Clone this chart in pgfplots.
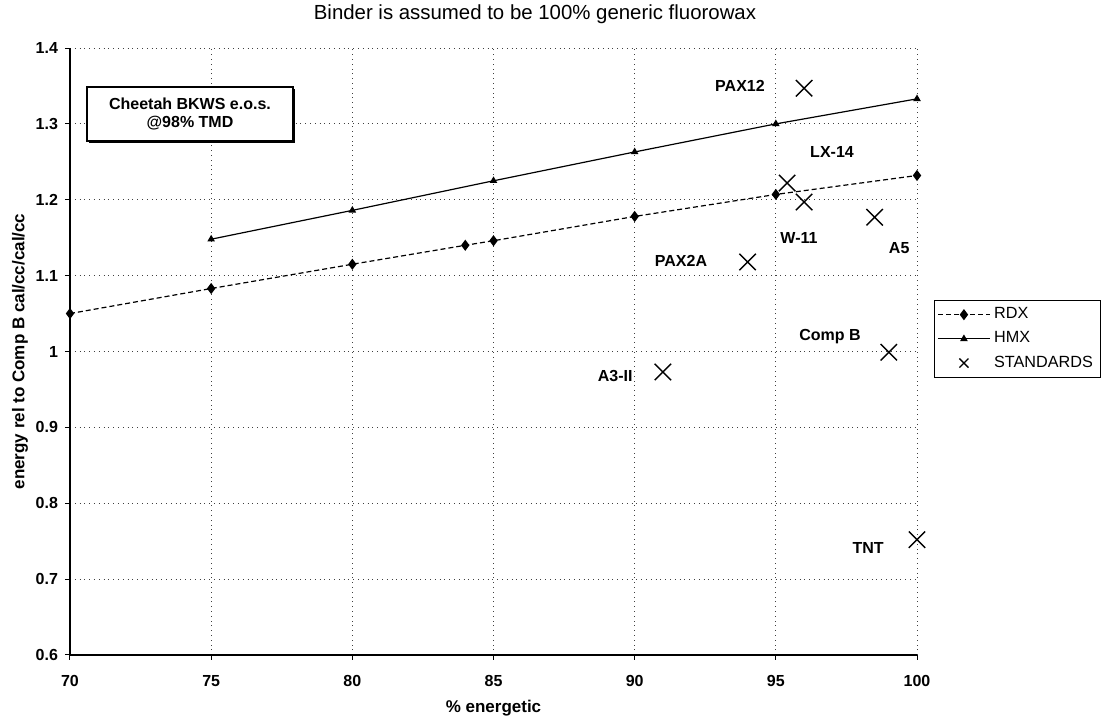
\documentclass[border=0pt]{standalone}
\usepackage{fontspec}
\setmainfont{Liberation Sans}
\usepackage{pgfplots}
\pgfplotsset{compat=1.18}
\usetikzlibrary{shadows}

\begin{document}
\begin{tikzpicture}
\useasboundingbox (-35pt,-33pt) rectangle (516pt,327.5pt);
\begin{axis}[
    scale only axis,
    width=423.5pt, height=303.5pt,
    xmin=70, xmax=100, ymin=0.6, ymax=1.4,
    xtick={70,75,80,85,90,95,100},
    ytick={0.6,0.7,0.8,0.9,1,1.1,1.2,1.3,1.4},
    axis x line*=bottom, axis y line*=left,
    axis line style={-, line width=0.9pt},
    tick align=outside, major tick length=2.5pt,
    tick style={black, line width=0.5pt},
    grid=major,
    major grid style={dotted, black!75, line width=0.5pt},
    clip=false,
    /pgf/number format/assume math mode=true,
    ticklabel style={font=\fontsize{8}{9}\selectfont\bfseries},
    xticklabel style={yshift=-4pt},
    title={Binder is assumed to be 100\% generic fluorowax},
    title style={at={(0.549,1)}, anchor=center, yshift=11pt, font=\fontsize{10.2}{11}\selectfont},
    xlabel={\% energetic},
    xlabel style={at={(0.5,0)}, anchor=center, yshift=-26.5pt, font=\fontsize{8.5}{10}\selectfont\bfseries},
    ylabel={energy rel to Comp B cal/cc/cal/cc},
    ylabel style={at={(0,0.5)}, anchor=center, yshift=25pt, font=\fontsize{8.5}{10}\selectfont\bfseries},
    legend style={at={(1.0201,0.585)}, anchor=north west, draw=black, line width=0.5pt,
        font=\fontsize{8.1}{9}\selectfont, row sep=1pt, inner sep=1.6pt},
    legend cell align=left,
    legend image code/.code={\draw[mark repeat=2, mark phase=2, #1]
        plot coordinates {(0cm,0cm) (0.45cm,0cm) (0.9cm,0cm)};},
]
\addplot[black, line width=0.6pt, dash pattern=on 2.5pt off 1.5pt, mark=diamond*, mark size=2.3pt, mark options={solid}]
coordinates {(70,1.050) (75,1.083) (80,1.115) (84,1.140) (85,1.146) (90,1.178) (95,1.207) (100,1.232)};
\addlegendentry{RDX}
\addplot[black, line width=0.6pt, mark=triangle*, mark size=1.6pt]
coordinates {(75,1.148) (80,1.186) (85,1.225) (90,1.263) (95,1.300) (100,1.333)};
\addlegendentry{HMX}
\addplot[only marks, black, mark=x, mark size=5.8pt, mark options={line width=0.7pt},
    legend image code/.code={\draw[black, line width=0.6pt, mark=x, mark size=3.2pt]
        plot coordinates {(0.45cm,0cm)};}]
coordinates {(96,1.347) (95.4,1.222) (96,1.197) (98.5,1.177) (94,1.118) (91,0.973) (99,0.999) (100,0.752)};
\addlegendentry{STANDARDS}

\begin{scope}[font=\fontsize{8}{9}\selectfont\bfseries]
\node at (axis cs:93.73,1.350) {PAX12};
\node at (axis cs:96.99,1.263) {LX-14};
\node at (axis cs:95.82,1.149) {W-11};
\node at (axis cs:99.37,1.136) {A5};
\node at (axis cs:91.64,1.119) {PAX2A};
\node at (axis cs:89.31,0.968) {A3-II};
\node at (axis cs:96.92,1.020) {Comp B};
\node at (axis cs:98.27,0.741) {TNT};
\node[draw, fill=white, line width=0.6pt, minimum width=103pt, minimum height=27pt, align=center,
      inner sep=1pt, drop shadow={shadow xshift=0.8pt, shadow yshift=-0.8pt, fill=black, opacity=1}]
  at (axis cs:74.25,1.313) {Cheetah BKWS e.o.s.\\@98\% TMD};
\end{scope}
\end{axis}
\end{tikzpicture}
\end{document}
